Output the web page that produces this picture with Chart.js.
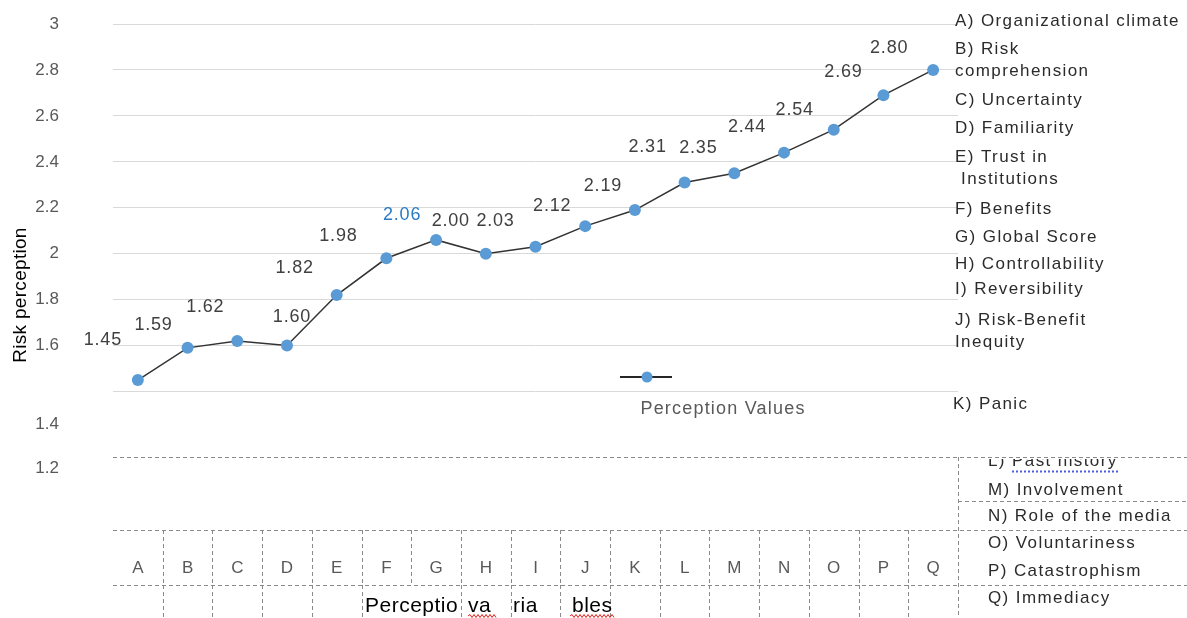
<!DOCTYPE html>
<html>
<head>
<meta charset="utf-8">
<title>Risk perception</title>
<script src="https://cdn.jsdelivr.net/npm/chart.js@4.4.1/dist/chart.umd.min.js"></script>
<style>
  html, body { margin: 0; padding: 0; background: #fff; }
  #wrap { position: relative; width: 1187px; height: 618px; }
</style>
</head>
<body>
<div id="wrap"><canvas id="chart" width="1187" height="618"></canvas></div>
<script>
// data
const categories = ["A", "B", "C", "D", "E", "F", "G", "H", "I", "J", "K", "L", "M", "N", "O", "P", "Q"];
const perceptionValues = [1.45, 1.59, 1.62, 1.60, 1.82, 1.98, 2.06, 2.00, 2.03, 2.12, 2.19, 2.31, 2.35, 2.44, 2.54, 2.69, 2.80];
const seriesName = "Perception Values";
const yTitle = "Risk perception";
const yMin = 1.4, yMax = 3, yStep = 0.2;
const strayTickLabels = ["1.4", "1.2"];
const variableNames = [
  ["A) Organizational climate"],
  ["B) Risk", "comprehension"],
  ["C) Uncertainty"],
  ["D) Familiarity"],
  ["E) Trust in", " Institutions"],
  ["F) Benefits"],
  ["G) Global Score"],
  ["H) Controllability"],
  ["I) Reversibility"],
  ["J) Risk-Benefit", "Inequity"],
  ["K) Panic"],
  ["L) Past history"],
  ["M) Involvement"],
  ["N) Role of the media"],
  ["O) Voluntariness"],
  ["P) Catastrophism"],
  ["Q) Immediacy"]
];
const captionPieces = ["Perceptio", "va", "ria", "bles"];

// layout only (not data)
const FONT = "'Liberation Sans', Arial, sans-serif";
const labelNudge = [[-35,-40],[-34,-23],[-32,-34],[5,-29],[-42,-27],[-48,-22],[-34,-25],[-35,-33],[-40,-26],
                    [-33,-20],[-32,-24],[-37,-35],[-36,-25],[-37,-26],[-39,-20],[-40,-23],[-44,-22]];
const highlightIndex = 6;
// y centre of each item in the side list (first line), x of item
const sideRows = [21, 49, 100, 128, 157, 209, 237, 264, 289, 320, 404, 461, 490, 516, 543, 571, 598];
const sideX    = [955,955,955,955,955,955,955,955,955,955,953,988,988,988,988,988,988];
const captionX = [365, 468, 513, 572];

function txt(ctx, s, x, y, font, color, align, spacing) {
  ctx.save();
  ctx.font = font;
  ctx.fillStyle = color;
  ctx.textAlign = align || "left";
  ctx.textBaseline = "middle";
  ctx.letterSpacing = (spacing || 0) + "px";
  ctx.fillText(s, x, y);
  ctx.restore();
}

function seg(ctx, x1, y1, x2, y2) {
  ctx.beginPath();
  ctx.moveTo(x1, y1);
  ctx.lineTo(x2, y2);
  ctx.stroke();
}

function squiggle(ctx, x1, x2, y) {
  ctx.save();
  ctx.strokeStyle = "#e0201c";
  ctx.lineWidth = 1;
  ctx.beginPath();
  ctx.moveTo(x1, y);
  let up = true;
  for (let x = x1 + 2; x <= x2; x += 2) {
    ctx.lineTo(x, up ? y - 1.5 : y + 1.5);
    up = !up;
  }
  ctx.stroke();
  ctx.restore();
}

const dataLabels = {
  id: "dataLabels",
  afterDatasetsDraw(chart) {
    const ctx = chart.ctx;
    const meta = chart.getDatasetMeta(0);
    meta.data.forEach((pt, i) => {
      const col = i === highlightIndex ? "#2a7ac6" : "#404040";
      txt(ctx, perceptionValues[i].toFixed(2), pt.x + labelNudge[i][0], pt.y + labelNudge[i][1],
          "18px " + FONT, col, "center", 0.8);
    });
  }
};

const decor = {
  id: "decor",
  afterDraw(chart) {
    const ctx = chart.ctx;
    const area = chart.chartArea;
    const xs = chart.scales.x;
    const W = chart.width;

    // y axis title
    ctx.save();
    ctx.translate(21, 295);
    ctx.rotate(-Math.PI / 2);
    txt(ctx, yTitle, 0, 0, "19px " + FONT, "#000", "center", 0.3);
    ctx.restore();

    // stray tick labels below the plot
    txt(ctx, strayTickLabels[0], 59, 424, "17px " + FONT, "#595959", "right");
    txt(ctx, strayTickLabels[1], 59, 468, "17px " + FONT, "#595959", "right");

    // legend
    const ly = 377;
    ctx.save();
    ctx.strokeStyle = "#262626";
    ctx.lineWidth = 2;
    seg(ctx, 620, ly, 672, ly);
    ctx.fillStyle = "#5b9bd5";
    ctx.beginPath();
    ctx.arc(647, ly, 5.5, 0, Math.PI * 2);
    ctx.fill();
    ctx.restore();
    txt(ctx, chart.data.datasets[0].label, 723, 409, "18px " + FONT, "#595959", "center", 1.2);

    // table of dashed cells
    ctx.save();
    ctx.strokeStyle = "#8a8a8a";
    ctx.lineWidth = 1;
    ctx.setLineDash([4, 3]);
    seg(ctx, area.left, 457.5, W, 457.5);
    seg(ctx, area.right, 501.5, W, 501.5);
    seg(ctx, area.left, 530.5, W, 530.5);
    seg(ctx, area.left, 585.5, W, 585.5);
    const n = categories.length;
    for (let i = 0; i < n - 1; i++) {
      const bx = Math.round((xs.getPixelForValue(i) + xs.getPixelForValue(i + 1)) / 2) + 0.5;
      seg(ctx, bx, 530, bx, 585);
      if (i !== 5) seg(ctx, bx, 585, bx, 618);
    }
    const rx = Math.round(area.right) + 0.5;
    seg(ctx, rx, 457, rx, 618);
    ctx.restore();

    // side list of variable names
    const sideFont = "17px " + FONT;
    variableNames.forEach((lines, i) => {
      const y0 = sideRows[i];
      lines.forEach((line, k) => {
        const y = y0 + k * 22;
        if (i === 11) {
          ctx.save();
          ctx.beginPath();
          ctx.rect(sideX[i] - 5, 459, W - sideX[i] + 5, 20);
          ctx.clip();
          txt(ctx, line, sideX[i], y, sideFont, "#2b2b2b", "left", 1.4);
          ctx.restore();
        } else {
          txt(ctx, line, sideX[i], y, sideFont, "#2b2b2b", "left", 1.4);
        }
      });
    });
    // spell-check style dotted underline under "Past history"
    ctx.save();
    ctx.strokeStyle = "#4b5fe0";
    ctx.lineWidth = 2;
    ctx.setLineDash([2, 2]);
    seg(ctx, 1012, 471.5, 1118, 471.5);
    ctx.restore();

    // caption in the bottom row
    captionPieces.forEach((s, i) => {
      txt(ctx, s, captionX[i], 606, "21px " + FONT, "#000", "left", 0.5);
    });
    squiggle(ctx, 468, 496, 616);
    squiggle(ctx, 570, 614, 616);
  }
};

const ctx = document.getElementById("chart").getContext("2d");
new Chart(ctx, {
  type: "line",
  data: {
    labels: categories,
    datasets: [{
      label: seriesName,
      data: perceptionValues,
      borderColor: "#333333",
      borderWidth: 1.5,
      tension: 0,
      pointRadius: 6,
      pointHoverRadius: 6,
      pointBackgroundColor: "#5b9bd5",
      pointBorderColor: "#5b9bd5",
      pointBorderWidth: 0
    }]
  },
  options: {
    responsive: false,
    animation: false,
    layout: { padding: { top: 24, right: 229, bottom: 0, left: 0 } },
    plugins: {
      legend: { display: false },
      tooltip: { enabled: false }
    },
    scales: {
      x: {
        type: "category",
        offset: true,
        grid: { display: false, drawTicks: false },
        border: { display: false },
        ticks: {
          color: "#595959",
          font: { family: FONT, size: 17 },
          padding: 167,
          maxRotation: 0,
          autoSkip: false
        },
        afterFit(s) {
          s.height = 226.5;
          s.paddingLeft = 0;
          s.paddingRight = 0;
        }
      },
      y: {
        min: yMin,
        max: yMax,
        grid: { color: "#d9d9d9", lineWidth: 1, drawTicks: false },
        border: { display: false },
        ticks: {
          stepSize: yStep,
          color: "#595959",
          font: { family: FONT, size: 17 },
          padding: 54,
          callback(v) {
            const r = Math.round(v * 10) / 10;
            return r === yMin ? "" : String(r);
          }
        },
        afterFit(s) {
          s.width = 113;
          s.paddingTop = 0;
          s.paddingBottom = 0;
        }
      }
    }
  },
  plugins: [dataLabels, decor]
});
</script>
</body>
</html>
